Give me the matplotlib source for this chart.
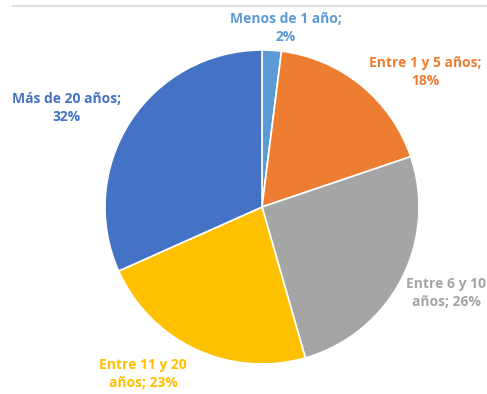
import matplotlib.pyplot as plt
from matplotlib.lines import Line2D

plt.rcParams['font.family'] = ['Open Sans', 'DejaVu Sans']

# Antigüedad
categorias = ['Menos de 1 año', 'Entre 1 y 5 años', 'Entre 6 y 10 años',
              'Entre 11 y 20 años', 'Más de 20 años']
porcentajes = [2, 18, 26, 23, 32]
colores = ['#5B9BD5', '#ED7D31', '#A5A5A5', '#FFC000', '#4472C4']

# label text split into lines, and label centres in pixels from top-left
lineas = [
    ('Menos de 1 año;', '{}%'),
    ('Entre 1 y 5 años;', '{}%'),
    ('Entre 6 y 10', 'años; {}%'),
    ('Entre 11 y 20', 'años; {}%'),
    ('Más de 20 años;', '{}%'),
]
pos_etiquetas = [(286, 28), (425, 72), (446, 293), (143, 374), (67, 108)]

W, H = 487, 394
fig = plt.figure(figsize=(W / 100, H / 100), dpi=100)

cx, cy, r = 262, 207, 157
ax = fig.add_axes([(cx - r) / W, (H - cy - r) / H, 2 * r / W, 2 * r / H])
ax.pie(porcentajes, colors=colores, startangle=90, counterclock=False,
       wedgeprops=dict(edgecolor='white', linewidth=1.2))
ax.set_xlim(-1, 1)
ax.set_ylim(-1, 1)
ax.set_aspect('equal')
ax.axis('off')

# thin rule across the top
fig.add_artist(Line2D([13 / W, 1], [1 - 6 / H, 1 - 6 / H], color='#D9D9D9',
                      linewidth=1.2, transform=fig.transFigure))

for (l1, l2), (x, y), p, c in zip(lineas, pos_etiquetas, porcentajes, colores):
    fig.text(x / W, 1 - y / H, l1 + '\n' + l2.format(p), ha='center',
             va='center', fontsize=10, fontweight='bold', color=c,
             linespacing=1.35)

fig.savefig('out.png', dpi=100, facecolor='white')
